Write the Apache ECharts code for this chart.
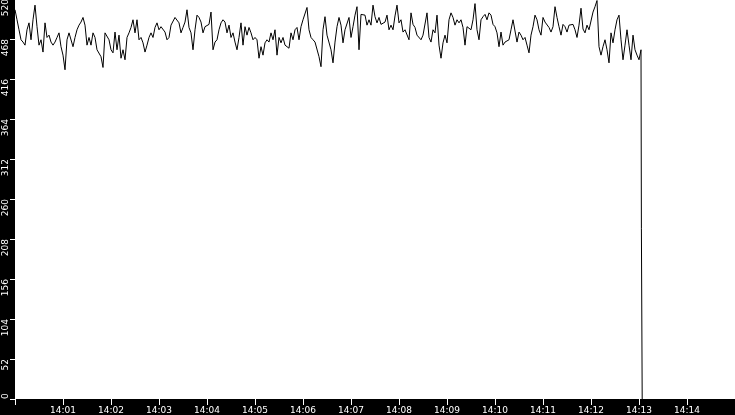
<!DOCTYPE html>
<html>
<head>
<meta charset="utf-8">
<script src="https://cdn.jsdelivr.net/npm/echarts@6/dist/echarts.min.js"></script>
<style>
html, body { margin: 0; padding: 0; background: #000; }
#main { width: 735px; height: 415px; }
</style>
</head>
<body>
<div id="main"></div>
<script>
// time range of the x axis
const startTime = new Date(2024, 0, 1, 14, 0, 0).getTime();
const endTime = new Date(2024, 0, 1, 14, 15, 0).getTime();
const stepMs = 2500; // one reading every 2.5 s

// readings
const values = [
  506,493,480,467,464,460,480,489,467,493,
  512,484,460,467,451,489,470,473,464,460,
  464,470,476,458,447,428,467,476,477,458,
  470,480,486,490,496,486,460,470,460,476,
  470,454,454,445,431,476,476,467,454,
  450,477,454,473,443,454,441,470,476,483,
  493,476,493,467,470,463,451,460,470,476,
  470,483,489,480,484,483,477,467,470,486,
  484,496,497,489,476,483,490,506,483,476,
  454,480,499,496,490,476,484,486,
  487,503,454,464,467,480,489,493,490,476,
  486,470,476,464,454,470,489,460,484,473,
  483,476,467,470,467,443,458,447,463,467,
  464,476,467,480,447,470,463,470,460,460,
  456,476,467,480,483,467,484,493,493,509,
  480,470,467,464,463,445,432,480,497,473,
  473,454,437,464,484,496,486,463,480,480,
  496,470,484,499,510,454,500,498,499,486,
  493,486,512,497,489,496,487,486,490,499,
  480,486,480,498,512,489,493,477,480,
  480,467,502,487,483,473,472,467,473,474,
  502,470,464,480,476,499,460,443,463,473,
  463,493,502,496,486,493,489,493,483,460,
  484,484,480,493,514,480,467,493,497,500,
  493,502,499,487,484,476,458,477,460,
  464,463,467,480,493,493,464,477,473,467,
  470,460,450,473,484,499,493,480,473,496,
  490,490,483,477,484,510,496,484,473,487,
  484,477,486,484,487,480,470,486,508,481,
  476,486,480,480,503,510,518,458,447,
  458,467,454,437,476,463,480,493,499,467,
  441,460,480,460,441,473,454,447,441,454
];
// the drop at the end (seconds after 14:00)
const tailSeconds = [783, 784];
const tailValues = [222, 0];

// y axis ticks
const yMin = 0;
const yMax = 520;
const yStep = 52;

const data = values.map((v, i) => [startTime + i * stepMs, v]);
tailSeconds.forEach((s, i) => data.push([startTime + s * 1000, tailValues[i]]));

const pad = (n) => (n < 10 ? '0' : '') + n;
const timeLabel = (v) => {
  if (v <= startTime || v >= endTime) return '';
  const d = new Date(v);
  return pad(d.getHours()) + ':' + pad(d.getMinutes());
};

const yLabelBase = {
  color: '#fff',
  fontSize: 9,
  rotate: 90,
  verticalAlign: 'middle',
  margin: 9
};

const chart = echarts.init(document.getElementById('main'));
chart.setOption({
  animation: false,
  backgroundColor: '#000',
  textStyle: { fontFamily: 'DejaVu Sans' },
  grid: {
    left: 15, right: 0, top: -1, bottom: 16,
    containLabel: false,
    outerBoundsMode: 'none',
    show: true, backgroundColor: '#fff', borderWidth: 0
  },
  xAxis: {
    type: 'time',
    min: startTime,
    max: endTime,
    interval: 60000,
    minInterval: 60000,
    maxInterval: 60000,
    axisLine: { show: false },
    axisTick: { show: true, length: 6, lineStyle: { color: '#fff', width: 1 } },
    splitLine: { show: false },
    axisLabel: {
      color: '#fff',
      fontSize: 9,
      margin: 7,
      formatter: timeLabel
    }
  },
  yAxis: [{
    type: 'value',
    min: yMin,
    max: yMax,
    interval: yStep,
    axisLine: { show: false },
    axisTick: { show: true, length: 5, lineStyle: { color: '#fff', width: 1 } },
    splitLine: { show: false },
    axisLabel: Object.assign({}, yLabelBase, {
      align: 'right',
      formatter: (v) => (v === yMin ? '' : String(v))
    })
  }, {
    // only carries the bottom label, which sits above its tick
    type: 'value',
    position: 'left',
    min: yMin,
    max: yMax,
    interval: yStep,
    axisLine: { show: false },
    axisTick: { show: false },
    splitLine: { show: false },
    axisLabel: Object.assign({}, yLabelBase, {
      align: 'left',
      formatter: (v) => (v === yMin ? String(v) : '')
    })
  }],
  series: [{
    type: 'line',
    data: data,
    showSymbol: false,
    symbol: 'none',
    lineStyle: { color: '#000', width: 1 }
  }]
});
window.addEventListener('resize', () => chart.resize());
</script>
</body>
</html>
